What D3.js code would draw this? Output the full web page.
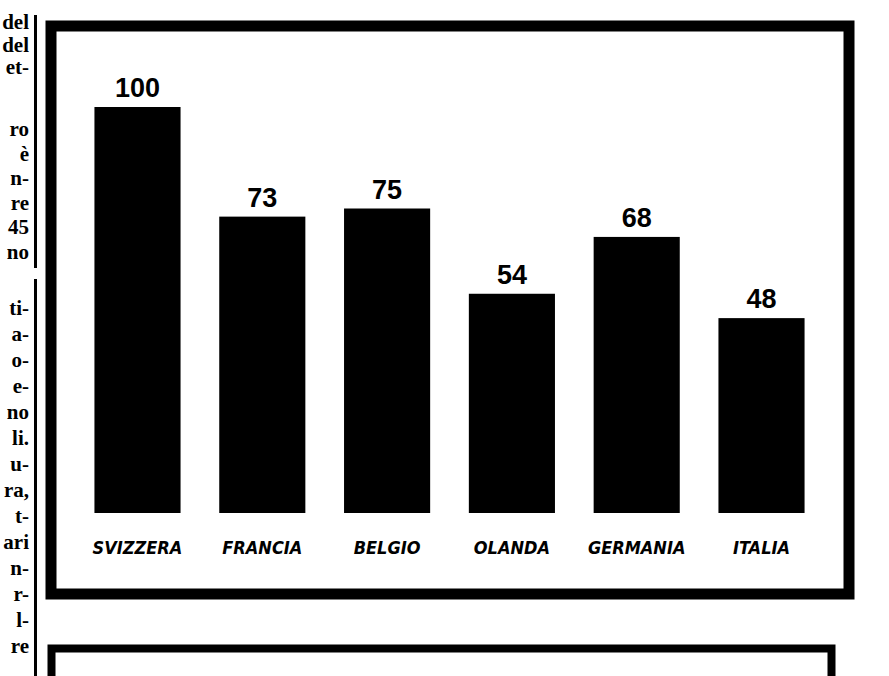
<!DOCTYPE html>
<meta charset="utf-8">
<style>
body { margin: 0; background: #fff; }
svg { display: block; }
.col text { font-family: 'Liberation Serif', 'DejaVu Serif', serif; font-weight: bold; font-size: 21px; }
.value { font-family: 'Liberation Sans', Arial, sans-serif; font-weight: bold; font-size: 27px; }
.cat { font-family: 'Liberation Sans Narrow', 'DejaVu Sans Condensed', sans-serif; font-weight: bold; font-style: italic; font-size: 18px; }
</style>
<svg width="889" height="676"></svg>
<script src="https://d3js.org/d3.v7.min.js"></script>
<script>
// paesi e valori (indice, Svizzera = 100)
var paesi = ["SVIZZERA", "FRANCIA", "BELGIO", "OLANDA", "GERMANIA", "ITALIA"];
var valori = [100, 73, 75, 54, 68, 48];

// frammenti della colonna di testo a sinistra
var righeTesta = ["del", "del", "et-"];
var righeMezzo = ["ro", "è", "n-", "re", "45", "no"];
var righeSotto = ["ti-", "a-", "o-", "e-", "no", "li.", "u-", "ra,", "t-", "ari", "n-", "r-", "l-", "re"];

var svg = d3.select("svg");

// colonna di testo tagliata
var col = svg.append("g").attr("class", "col").attr("text-anchor", "end");
function blocco(righe, y0, passo) {
  col.append("g").selectAll("text").data(righe).enter().append("text")
      .attr("x", 29)
      .attr("y", function(d, i) { return y0 + i * passo; })
      .text(function(d) { return d; });
}
blocco(righeTesta, 29, 22.5);
blocco(righeMezzo, 136, 24.5);
blocco(righeSotto, 315, 26);

// filetti verticali
svg.append("line").attr("x1", 35.5).attr("x2", 35.5).attr("y1", 15).attr("y2", 268)
    .attr("stroke", "#000").attr("stroke-width", 3);
svg.append("line").attr("x1", 35.5).attr("x2", 35.5).attr("y1", 279).attr("y2", 676)
    .attr("stroke", "#000").attr("stroke-width", 3);

// riquadro principale
svg.append("rect")
    .attr("x", 51).attr("y", 26).attr("width", 798).attr("height", 568)
    .attr("fill", "#fff").attr("stroke", "#000").attr("stroke-width", 11);

// riquadro successivo (tagliato)
svg.append("path")
    .attr("d", "M51.5,680V648.5H831.5V680")
    .attr("fill", "none").attr("stroke", "#000").attr("stroke-width", 8);

var x = d3.scaleBand()
    .domain(paesi)
    .range([57, 842])
    .paddingInner(0.31)
    .paddingOuter(0.3);

var y = d3.scaleLinear()
    .domain([0, 100])
    .range([513, 107]);

var dati = paesi.map(function(p, i) { return { paese: p, valore: valori[i] }; });

var g = svg.append("g");

g.selectAll("rect.bar").data(dati).enter().append("rect")
    .attr("class", "bar")
    .attr("x", function(d) { return x(d.paese); })
    .attr("y", function(d) { return y(d.valore); })
    .attr("width", x.bandwidth())
    .attr("height", function(d) { return y(0) - y(d.valore); })
    .attr("fill", "#000");

g.selectAll("text.value").data(dati).enter().append("text")
    .attr("class", "value")
    .attr("text-anchor", "middle")
    .attr("x", function(d) { return x(d.paese) + x.bandwidth() / 2; })
    .attr("y", function(d) { return y(d.valore) - 10; })
    .text(function(d) { return d.valore; });

g.selectAll("text.cat").data(dati).enter().append("text")
    .attr("class", "cat")
    .attr("text-anchor", "middle")
    .attr("x", function(d) { return x(d.paese) + x.bandwidth() / 2; })
    .attr("y", 554)
    .text(function(d) { return d.paese; });
</script>
